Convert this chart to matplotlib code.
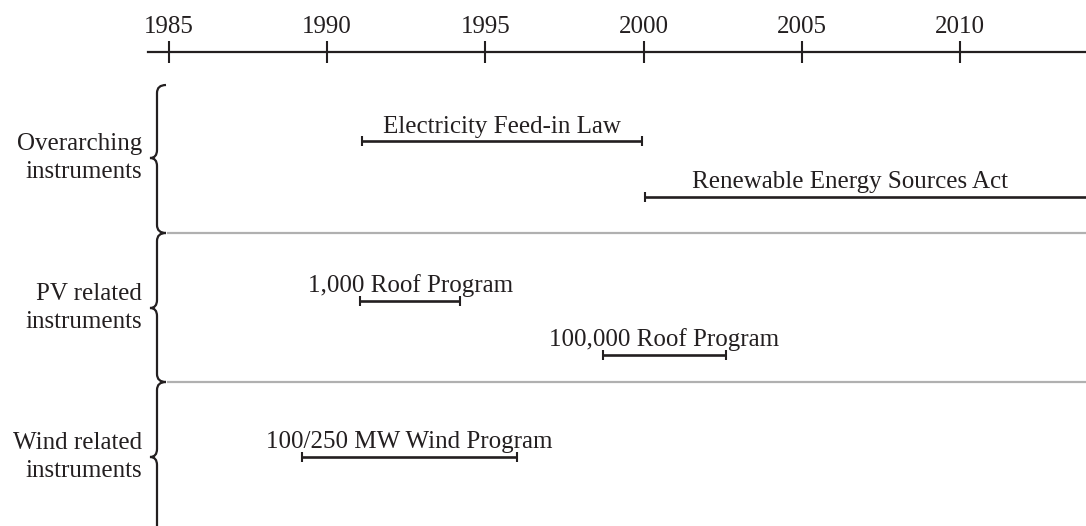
import numpy as np
import matplotlib
matplotlib.use('Agg')
import matplotlib.pyplot as plt
from matplotlib.path import Path
from matplotlib.patches import PathPatch
from matplotlib.transforms import blended_transform_factory

# ----------------------------- data -----------------------------
groups = ['Overarching\ninstruments', 'PV related\ninstruments', 'Wind related\ninstruments']
programs = ['Electricity Feed-in Law', 'Renewable Energy Sources Act',
            '1,000 Roof Program', '100,000 Roof Program', '100/250 MW Wind Program']
prog_group = [0, 0, 1, 1, 2]
prog_start = [1991.1, 2000.05, 1991.05, 1998.7, 1989.2]
prog_end = [1999.95, 2015.0, 1994.2, 2002.6, 1996.0]
years = [1985, 1990, 1995, 2000, 2005, 2010]

# ----------------------------- layout (pixels) -----------------------------
W, H = 1086, 526
ink = '#231f20'
bar_y = [141.5, 197, 301.5, 355, 457.5]
band_top = [85, 233, 382]
band_bot = [233, 382, 535]
band_tip = [158, 308, 457]
x_lo, x_hi = 1984.336, 2013.98
plt.rcParams['font.family'] = ['Liberation Serif', 'DejaVu Serif']
fs = 18

fig = plt.figure(figsize=(W / 100, H / 100), dpi=100)
ax = fig.add_axes([148 / W, 0, 1 - 148 / W, 1 - 52 / H])
ax.set_xlim(x_lo, x_hi)
ax.set_ylim(H, 52)

for s in ['left', 'right', 'bottom']:
    ax.spines[s].set_visible(False)
ax.spines['top'].set_linewidth(1.6)
ax.spines['top'].set_color(ink)
ax.xaxis.tick_top()
ax.set_xticks(years)
ax.tick_params(axis='x', direction='inout', length=16, width=1.5, color=ink,
               labelsize=fs, labelcolor=ink, pad=2)
ax.set_yticks([])

# separators between groups
for yb in band_bot[:-1]:
    ax.plot([1985 + (167 - 169) / 31.64, x_hi], [yb, yb], color='#b0b0b0', lw=1.6,
            solid_capstyle='butt', clip_on=False)

# program bars
for name, s, e, yy in zip(programs, prog_start, prog_end, bar_y):
    ax.plot([s, e], [yy, yy], color=ink, lw=1.9, solid_capstyle='butt')
    ax.plot([s, e], [yy, yy], ls='none', marker='|', ms=6.5, mew=1.5, color=ink)
    xc = (s + min(e, 2013)) / 2
    ax.text(xc, yy - 9, name, ha='center', va='baseline', fontsize=fs, color=ink)

# braces + group labels
tr = blended_transform_factory(fig.transFigure, ax.transData)
xr, xv, xt, r = 166 / W, 157 / W, 150 / W, 8
for lab, y0, y1, ym in zip(groups, band_top, band_bot, band_tip):
    verts = [(xr, y0), (xv, y0), (xv, y0 + r),
             (xv, ym - r),
             (xv, ym), (xt, ym),
             (xv, ym), (xv, ym + r),
             (xv, y1 - r),
             (xv, y1), (xr, y1)]
    codes = [Path.MOVETO, Path.CURVE3, Path.CURVE3,
             Path.LINETO,
             Path.CURVE3, Path.CURVE3,
             Path.CURVE3, Path.CURVE3,
             Path.LINETO,
             Path.CURVE3, Path.CURVE3]
    ax.add_patch(PathPatch(Path(verts, codes), transform=tr, fill=False,
                           ec=ink, lw=1.6, clip_on=False))
    ax.text(142 / W, ym, lab, transform=tr, ha='right', va='center',
            fontsize=fs, color=ink, linespacing=1.4)

fig.savefig('out.png', dpi=100)
